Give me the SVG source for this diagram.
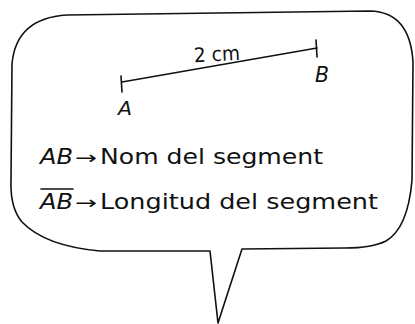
<svg xmlns="http://www.w3.org/2000/svg" width="415" height="324" viewBox="0 0 415 324">
<style>
.ln{fill:none;stroke:#111;stroke-width:1.6;stroke-linecap:round;stroke-linejoin:round}
.t{font-family:"DejaVu Sans","Liberation Sans",sans-serif;fill:#111}
.it{font-family:"DejaVu Sans","Liberation Sans",sans-serif;font-style:italic;fill:#111}
</style>
<rect width="415" height="324" fill="#fff"/>
<g id="bubble">
<path class="ln" d="M 67 15 L 370 11 Q 410 12 413 62 L 412 180 Q 408 228 386 241 Q 372 248 345 248 L 242 249 L 218 323 L 210 251 L 100 251 Q 45 246 22 222 Q 10 208 11 180 L 12 64 Q 16 18 67 15 Z"/>
</g>
<g id="segment">
<path class="ln" d="M 122 82 L 317 48" stroke-width="1.8"/>
<path class="ln" d="M 121 76 L 122 92 M 316 40 L 317 57" stroke-width="1.8"/>
<text class="t" x="194" y="61" font-size="20" textLength="46" lengthAdjust="spacingAndGlyphs" transform="rotate(-3 217 55)">2 cm</text>
<text class="it" x="315" y="82" font-size="21" textLength="14" lengthAdjust="spacingAndGlyphs">B</text>
<text class="it" x="118" y="115" font-size="20" textLength="14" lengthAdjust="spacingAndGlyphs">A</text>
</g>
<g id="line1">
<text class="it" x="40" y="164" font-size="22" textLength="33" lengthAdjust="spacingAndGlyphs">AB</text>
<text class="t" x="75" y="164" font-size="18" textLength="22" lengthAdjust="spacingAndGlyphs">→</text>
<text class="t" x="100" y="164" font-size="22" textLength="223" lengthAdjust="spacingAndGlyphs">Nom del segment</text>
</g>
<g id="line2">
<path class="ln" d="M 41 189 L 73 189" stroke-width="1.5"/>
<text class="it" x="40" y="209" font-size="22" textLength="33" lengthAdjust="spacingAndGlyphs">AB</text>
<text class="t" x="75" y="209" font-size="18" textLength="22" lengthAdjust="spacingAndGlyphs">→</text>
<text class="t" x="100" y="209" font-size="22" textLength="278" lengthAdjust="spacingAndGlyphs">Longitud del segment</text>
</g>
</svg>
